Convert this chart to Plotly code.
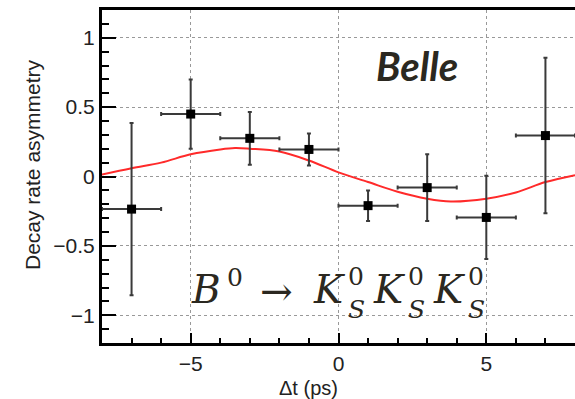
import plotly.graph_objects as go

# ---- data ----
dt_bins = [-7, -5, -3, -1, 1, 3, 5, 7]
asym = [-0.235, 0.45, 0.275, 0.195, -0.21, -0.08, -0.295, 0.295]
asym_err = [0.62, 0.25, 0.19, 0.115, 0.11, 0.24, 0.30, 0.56]
dt_halfwidth = [1, 1, 1, 1, 1, 1, 1, 1]

fit_t = [-8, -7, -6, -5, -4, -3.5, -3, -2, -1, 0, 1, 2, 3, 3.8, 5, 6, 7, 8]
fit_a = [0.014, 0.06, 0.10, 0.16, 0.195, 0.205, 0.20, 0.18, 0.115, 0.03, -0.04,
         -0.11, -0.16, -0.18, -0.16, -0.115, -0.04, 0.01]

x_ticks = [-5, 0, 5]
y_ticks = [-1, -0.5, 0, 0.5, 1]

W, H = 575, 399
L, R, T, B = 102, 0, 10, 56
PW, PH = W - L - R, H - T - B


def px(x):
    return (x - L) / PW


def py(y):
    return (H - B - y) / PH


TXT = "#2b2820"
fig = go.Figure()

fig.add_trace(go.Scatter(
    x=fit_t, y=fit_a, mode="lines", line=dict(color="#ff2a2a", width=2, shape="spline"),
    hoverinfo="skip", showlegend=False))

fig.add_trace(go.Scatter(
    x=dt_bins, y=asym, mode="markers",
    marker=dict(symbol="square", size=9, color="black"),
    error_y=dict(type="data", array=asym_err, color="#3a3a3a", thickness=2, width=2),
    error_x=dict(type="data", array=dt_halfwidth, color="#3a3a3a", thickness=2, width=2),
    showlegend=False))

axis_font = dict(family="Liberation Sans, Arial", size=21, color="#222")

fig.update_layout(
    width=W, height=H, margin=dict(l=L, r=R, t=T, b=B),
    paper_bgcolor="white", plot_bgcolor="white",
    xaxis=dict(range=[-8, 8], tickvals=x_ticks, ticks="inside", ticklen=10, tickwidth=2,
               tickcolor="black", showline=True, linecolor="black", linewidth=3, mirror=True,
               showgrid=True, gridcolor="#999", griddash="dot", gridwidth=1,
               zeroline=False, tickfont=axis_font,
               minor=dict(dtick=1, tick0=0, ticks="inside", ticklen=5, tickwidth=2,
                          tickcolor="black", showgrid=False)),
    yaxis=dict(range=[-1.2, 1.2], tickvals=y_ticks, ticktext=["−1", "−0.5", "0", "0.5", "1"],
               ticks="inside", ticklen=14, tickwidth=2, tickcolor="black",
               showline=True, linecolor="black", linewidth=3,
               showgrid=True, gridcolor="#999", griddash="dot", gridwidth=1,
               zeroline=False, tickfont=axis_font,
               minor=dict(dtick=0.1, tick0=0, ticks="inside", ticklen=7, tickwidth=2,
                          tickcolor="black", showgrid=False)),
)

ann = []
# axis titles
ann.append(dict(text="Δt (ps)", x=px(308), y=py(388), xref="paper", yref="paper",
                showarrow=False, font=dict(family="Liberation Sans, Arial", size=20, color="#222"),
                xanchor="center", yanchor="middle"))
ann.append(dict(text="Decay rate asymmetry", x=px(33), y=py(165), xref="paper", yref="paper",
                showarrow=False, font=dict(family="Liberation Sans, Arial", size=21, color="#222"),
                textangle=-90, xanchor="center", yanchor="middle"))
# Belle label
ann.append(dict(text="<b><i>Belle</i></b>", x=px(417), y=py(66), xref="paper", yref="paper",
                showarrow=False, font=dict(family="Lato", size=40, color=TXT),
                xanchor="center", yanchor="middle"))

big = dict(family="DejaVu Serif", size=39, color=TXT)
small = dict(family="DejaVu Serif", size=25, color=TXT)


def t(text, x, y, font, align="left"):
    ann.append(dict(text=text, x=px(x), y=py(y), xref="paper", yref="paper",
                    showarrow=False, font=font, xanchor="left", yanchor="middle",
                    align=align, borderpad=0))


t("<i>B</i>", 190, 289, big)
t("0", 226, 277, small)
t("→", 259, 291, big)
for kx in [312, 372, 432]:
    t("<i>K</i>", kx, 289, big)
    t("0<br><i>S</i>", kx + 35, 293, small)

fig.update_layout(annotations=ann)
fig.write_html("out.html")
